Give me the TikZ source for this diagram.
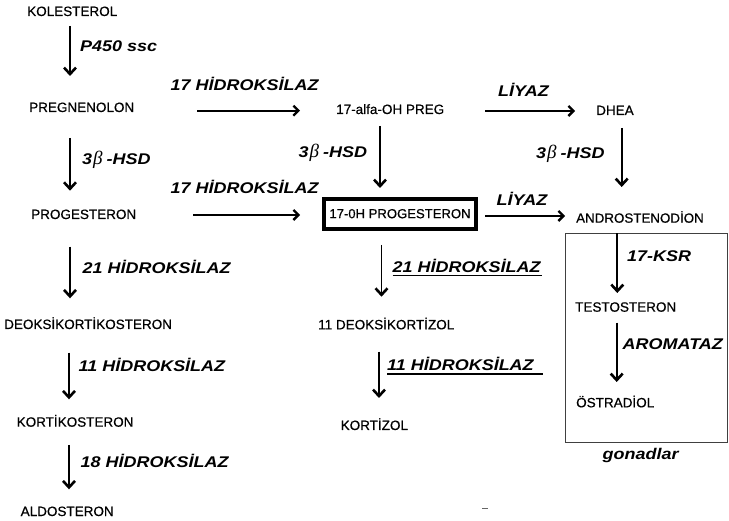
\documentclass[tikz,border=0pt]{standalone}
\usepackage{fontspec}
\setmainfont{Liberation Sans}
\newfontfamily\compfont[FakeBold=0.6]{Liberation Sans}
\newfontfamily\labfont[FakeStretch=1.16]{Liberation Sans}
\newfontfamily\betafont{Liberation Serif}
\usetikzlibrary{arrows.meta}
\newcommand{\bhsd}{{\labfont 3}\hspace{1pt}{\betafont\mdseries\itshape\fontsize{19}{19}\selectfont β}\hspace{4pt}-HSD}
\tikzset{
  comp/.style={anchor=base west, inner sep=0pt, font=\compfont\fontsize{13.5}{15}\selectfont},
  enz/.style={anchor=base west, inner sep=0pt, font=\labfont\bfseries\itshape\fontsize{15.5}{18}\selectfont},
  varr/.style={line width=1.9pt, -{Straight Barb[length=6.5pt,width=12pt,line width=2.6pt]}},
  harr/.style={line width=1.8pt, -{Straight Barb[length=5pt,width=10pt,line width=2.3pt]}},
  uline/.style={line width=1.3pt},
  gbox/.style={line width=0.8pt, draw=black!75},
}
\begin{document}
\begin{tikzpicture}[x=1pt,y=-1pt]
\useasboundingbox (0,0) rectangle (729,521);

% compounds
\node[comp] (kol) at (27,16) {KOLESTEROL};
\node[comp] (preg) at (29,112) {PREGNENOLON};
\node[comp] (ohpreg) at (336,114) {17-alfa-OH PREG};
\node[comp] (dhea) at (596,115) {DHEA};
\node[comp] (prog) at (31,219) {PROGESTERON};
\node[draw, line width=4pt, minimum width=152.6pt, minimum height=30pt, inner sep=0pt,
      font=\compfont\fontsize{13.1}{15}\selectfont] (ohprog) at (400,213.7) {17-0H PROGESTERON};
\node[comp, font=\compfont\fontsize{13.35}{15}\selectfont] (andro) at (576,222.7) {ANDROSTENODİON};
\node[comp] (doc) at (4,329) {DEOKSİKORTİKOSTERON};
\node[comp] (kortikos) at (16.5,426.7) {KORTİKOSTERON};
\node[comp] (aldo) at (20.5,516) {ALDOSTERON};
\node[comp] (dkort) at (318,329.3) {11 DEOKSİKORTİZOL};
\node[comp] (kort) at (340.5,430) {KORTİZOL};
\node[comp] (testo) at (575,311.7) {TESTOSTERON};
\node[comp] (ostra) at (576,407.3) {ÖSTRADİOL};

% gonad box
\draw[gbox] (565.5,233.3) rectangle (727.5,442.7);
\node[enz] (gon) at (602.5,459.3) {gonadlar};

% enzyme labels
\node[enz] (p450) at (80,52) {P450 ssc};
\node[enz] (h17a) at (170.5,91) {17 HİDROKSİLAZ};
\node[enz] (liy1) at (498,97) {LİYAZ};
\node[enz] (hsd1) at (82,164.3) {\bhsd};
\node[enz] (hsd2) at (298.5,158) {\bhsd};
\node[enz] (hsd3) at (536,159) {\bhsd};
\node[enz] (h17b) at (170.5,194) {17 HİDROKSİLAZ};
\node[enz] (liy2) at (496.5,205.7) {LİYAZ};
\node[enz] (ksr) at (627,261.7) {17-KSR};
\node[enz] (arom) at (622.5,350) {AROMATAZ};
\node[enz] (h21a) at (82.5,273.3) {21 HİDROKSİLAZ};
\node[enz] (h11a) at (78.5,371.7) {11 HİDROKSİLAZ};
\node[enz] (h18) at (80.5,467.3) {18 HİDROKSİLAZ};
\node[enz] (h21b) at (392.5,272.3) {21 HİDROKSİLAZ};
\node[enz] (h11b) at (387,371) {11 HİDROKSİLAZ};

% underlines
\draw[uline] ([yshift=-3.5pt]h21b.base west) -- ([xshift=1.5pt,yshift=-3.5pt]h21b.base east);
\draw[uline] ([yshift=-3pt]h11b.base west) -- ([xshift=9pt,yshift=-3pt]h11b.base east);

% arrow end points
\coordinate (a1s) at (70,26);    \coordinate (a1e) at (70,76);
\coordinate (a2s) at (70,138);   \coordinate (a2e) at (70,190.7);
\coordinate (a3s) at (70,246.7); \coordinate (a3e) at (70,298.3);
\coordinate (a4s) at (69,352.7); \coordinate (a4e) at (69,399.3);
\coordinate (a5s) at (69,445);   \coordinate (a5e) at (69,489.3);
\coordinate (b1s) at (380,126);  \coordinate (b1e) at (380,188);
\coordinate (b2s) at (381.5,245);\coordinate (b2e) at (381.5,296.7);
\coordinate (b3s) at (379,351.7);\coordinate (b3e) at (379,398);
\coordinate (c1s) at (621.7,128);\coordinate (c1e) at (621.7,187);
\coordinate (c2s) at (617.3,233.3);\coordinate (c2e) at (617.3,293);
\coordinate (c3s) at (616.7,322.7);\coordinate (c3e) at (616.7,382);
\coordinate (h1s) at (197,110.7);\coordinate (h1e) at (300,110.7);
\coordinate (h2s) at (193,215);  \coordinate (h2e) at (300,215);
\coordinate (h3s) at (485,111);  \coordinate (h3e) at (575,111);
\coordinate (h4s) at (485,216);  \coordinate (h4e) at (565,216);

% arrows
\draw[varr] (a1s) -- (a1e);
\draw[varr] (a2s) -- (a2e);
\draw[varr] (a3s) -- (a3e);
\draw[varr] (a4s) -- (a4e);
\draw[varr] (a5s) -- (a5e);
\draw[varr] (b1s) -- (b1e);
\draw[varr] (b2s) -- (b2e);
\draw[varr] (b3s) -- (b3e);
\draw[varr] (c1s) -- (c1e);
\draw[varr] (c2s) -- (c2e);
\draw[varr] (c3s) -- (c3e);
\draw[harr] (h1s) -- (h1e);
\draw[harr] (h2s) -- (h2e);
\draw[harr] (h3s) -- (h3e);
\draw[harr] (h4s) -- (h4e);

% small stray dash
\coordinate (d1) at (482,508); \coordinate (d2) at (488,508);
\draw[line width=1pt, black!60] (d1) -- (d2);
\end{tikzpicture}
\end{document}
